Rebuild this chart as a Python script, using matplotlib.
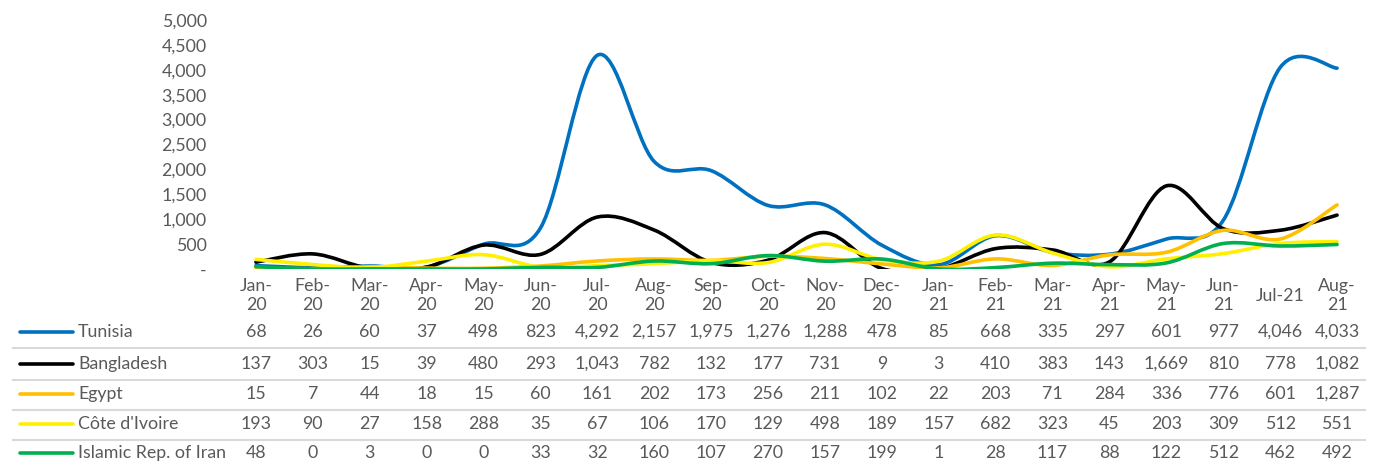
import matplotlib
matplotlib.use('Agg')
import matplotlib.pyplot as plt
import matplotlib.transforms as mtransforms
from matplotlib.path import Path
from matplotlib.patches import PathPatch
from matplotlib.lines import Line2D
import numpy as np

plt.rcParams['font.family'] = ['Lato', 'DejaVu Sans']

months = ['Jan-\n20', 'Feb-\n20', 'Mar-\n20', 'Apr-\n20', 'May-\n20', 'Jun-\n20',
          'Jul-\n20', 'Aug-\n20', 'Sep-\n20', 'Oct-\n20', 'Nov-\n20', 'Dec-\n20',
          'Jan-\n21', 'Feb-\n21', 'Mar-\n21', 'Apr-\n21', 'May-\n21', 'Jun-\n21',
          'Jul-21', 'Aug-\n21']

tunisia = [68, 26, 60, 37, 498, 823, 4292, 2157, 1975, 1276, 1288, 478, 85, 668,
           335, 297, 601, 977, 4046, 4033]
bangladesh = [137, 303, 15, 39, 480, 293, 1043, 782, 132, 177, 731, 9, 3, 410,
              383, 143, 1669, 810, 778, 1082]
egypt = [15, 7, 44, 18, 15, 60, 161, 202, 173, 256, 211, 102, 22, 203,
         71, 284, 336, 776, 601, 1287]
cote = [193, 90, 27, 158, 288, 35, 67, 106, 170, 129, 498, 189, 157, 682,
        323, 45, 203, 309, 512, 551]
iran = [48, 0, 3, 0, 0, 33, 32, 160, 107, 270, 157, 199, 1, 28,
        117, 88, 122, 512, 462, 492]

names = ['Tunisia', 'Bangladesh', 'Egypt', "Côte d'Ivoire", 'Islamic Rep. of Iran']
series = [tunisia, bangladesh, egypt, cote, iran]
colors = ['#0070C0', '#000000', '#FFC000', '#FFF000', '#00B050']

W, H = 1373, 461
text_color = '#595959'
fs = 12.8


def smooth_path(y):
    # Excel-like smoothed line: cubic Bezier through every point
    x = np.arange(len(y), dtype=float)
    y = np.asarray(y, dtype=float)
    pts = np.column_stack([x, y])
    verts = [pts[0]]
    codes = [Path.MOVETO]
    n = len(pts)
    for i in range(n - 1):
        p0 = pts[i - 1] if i > 0 else pts[i]
        p1 = pts[i]
        p2 = pts[i + 1]
        p3 = pts[i + 2] if i + 2 < n else pts[i + 1]
        c1 = p1 + (p2 - p0) / 6.0
        c2 = p2 - (p3 - p1) / 6.0
        verts += [c1, c2, p2]
        codes += [Path.CURVE4] * 3
    return Path(verts, codes)


fig = plt.figure(figsize=(W / 100, H / 100), dpi=100)
ax = fig.add_axes([227.5 / W, 1 - 269 / H, (1365.5 - 227.5) / W, (269 - 20) / H])
ax.set_xlim(-0.5, len(months) - 0.5)
ax.set_ylim(0, 5000)

for vals, col in zip(series, colors):
    ax.add_patch(PathPatch(smooth_path(vals), facecolor='none', edgecolor=col,
                           lw=2.6, capstyle='round', joinstyle='round'))

for s in ax.spines.values():
    s.set_visible(False)
ax.set_yticks(np.arange(0, 5001, 500))
ax.set_yticklabels(['-'] + ['{:,}'.format(v) for v in range(500, 5001, 500)])
ax.tick_params(axis='y', length=0, pad=15, labelsize=fs, labelcolor=text_color)
ax.set_xticks([])

trans = mtransforms.blended_transform_factory(ax.transData, fig.transFigure)

# category labels
for i, m in enumerate(months):
    ax.text(i, 1 - 295.5 / H, m, transform=trans, ha='center', va='center',
            fontsize=fs, color=text_color, linespacing=1.3, clip_on=False)

# data table below the chart
row_y = [332, 364, 394, 424, 453]
for r, (name, vals, col) in enumerate(zip(names, series, colors)):
    fy = 1 - row_y[r] / H
    fig.add_artist(Line2D([20 / W, 73 / W], [fy, fy], color=col, lw=2.6,
                          solid_capstyle='round'))
    fig.text(78 / W, fy, name, ha='left', va='center', fontsize=fs, color=text_color)
    for i, v in enumerate(vals):
        ax.text(i, fy, '{:,}'.format(v), transform=trans, ha='center', va='center',
                fontsize=fs, color=text_color, clip_on=False)
    if r < len(names) - 1:
        sy = 1 - (row_y[r] + 16) / H
        fig.add_artist(Line2D([13 / W, 1365 / W], [sy, sy], color='#D9D9D9', lw=1.5))

fig.savefig('out.png', dpi=100)
